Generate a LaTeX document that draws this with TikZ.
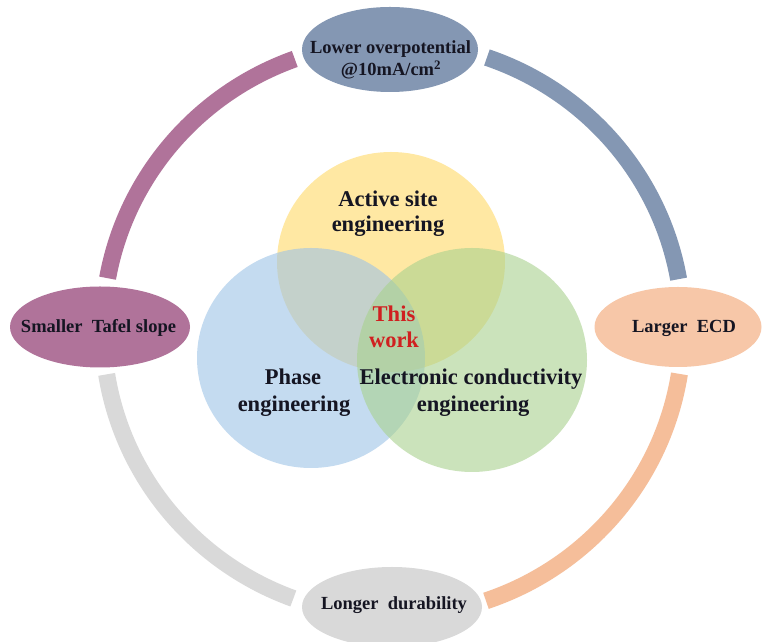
\documentclass[tikz,border=0pt]{standalone}
\usepackage{fontspec}
\setmainfont{Liberation Serif}
\usetikzlibrary{shapes.geometric}

\definecolor{ringpurple}{HTML}{B0739A}
\definecolor{ringslate}{HTML}{8497B3}
\definecolor{ringpeach}{HTML}{F5BE9A}
\definecolor{ringgray}{HTML}{D9D9D9}
\definecolor{capslate}{HTML}{8497B3}
\definecolor{cappurple}{HTML}{B0739A}
\definecolor{cappeach}{HTML}{F7C7A8}
\definecolor{capgray}{HTML}{D9D9D9}
\definecolor{vennyellow}{HTML}{FFD966}
\definecolor{vennblue}{HTML}{9DC3E6}
\definecolor{venngreen}{HTML}{A9D18E}
\definecolor{inkdark}{HTML}{151522}
\definecolor{inkred}{HTML}{D02020}

\tikzset{
  ringarc/.style={line width=17pt, line cap=butt},
  capsule/.style={ellipse, draw=none, inner sep=0pt},
  vennset/.style={fill opacity=0.6, draw=none},
  cap label/.style={font=\bfseries\fontsize{18.5}{22}\selectfont, text=inkdark, anchor=base, inner sep=0pt},
  venn label/.style={font=\bfseries\fontsize{22.5}{27}\selectfont, text=inkdark, anchor=base, inner sep=0pt, align=center},
}

\begin{document}
\begin{tikzpicture}[x=1pt, y=1pt]
  \useasboundingbox (0,0) rectangle (763,642);
  \clip (0,0) rectangle (763,642);
  \fill[white] (0,0) rectangle (763,642);

  % outer ring of four arcs
  \coordinate (ring) at (393,313);
  \draw[ringarc, ringpurple] ([shift={(109.8:290 and 287)}]ring) arc[start angle=109.8, end angle=169.8, x radius=290, y radius=287];
  \draw[ringarc, ringslate]  ([shift={(71.1:290 and 287)}]ring) arc[start angle=71.1, end angle=10, x radius=290, y radius=287];
  \draw[ringarc, ringgray]   ([shift={(189.1:290 and 287)}]ring) arc[start angle=189.1, end angle=249.9, x radius=290, y radius=287];
  \draw[ringarc, ringpeach]  ([shift={(288.7:290 and 287)}]ring) arc[start angle=288.7, end angle=351, x radius=290, y radius=287];

  % capsules on the ring
  \node[capsule, fill=capslate,  minimum width=176pt, minimum height=85pt] (top)    at (390,592.5) {};
  \node[capsule, fill=cappurple, minimum width=180pt, minimum height=81pt] (left)   at (100,315) {};
  \node[capsule, fill=cappeach,  minimum width=167pt, minimum height=80pt] (right)  at (678,315) {};
  \node[capsule, fill=capgray,   minimum width=180pt, minimum height=80pt] (bottom) at (392,35) {};

  \node[cap label] (topA) at (390.5,588) {Lower overpotential};
  \node[cap label] (topB) at (391,566) {@10mA/cm\textsuperscript{2}};
  \node[cap label] (leftT) at (98.5,309) {Smaller\ \ Tafel slope};
  \node[cap label] (rightT) at (684,309) {Larger\ \ ECD};
  \node[cap label] (bottomT) at (394,32) {Longer\ \ durability};

  % overlapping sets
  \fill[vennset, vennyellow] (391,380) ellipse[x radius=114, y radius=110];
  \fill[vennset, vennblue]   (311,284) ellipse[x radius=114, y radius=110];
  \fill[vennset, venngreen]  (472,282) ellipse[x radius=115, y radius=112];

  \node[venn label] (active) at (388,435) {Active site};
  \node[venn label] (activeB) at (388,410) {engineering};
  \node[venn label] (phase) at (293,257) {Phase};
  \node[venn label] (phaseB) at (294,230) {engineering};
  \node[venn label] (elec) at (471,257) {Electronic conductivity};
  \node[venn label] (elecB) at (473,230) {engineering};
  \node[venn label, text=inkred] (this) at (394,320) {This};
  \node[venn label, text=inkred] (work) at (394,294) {work};
\end{tikzpicture}
\end{document}
